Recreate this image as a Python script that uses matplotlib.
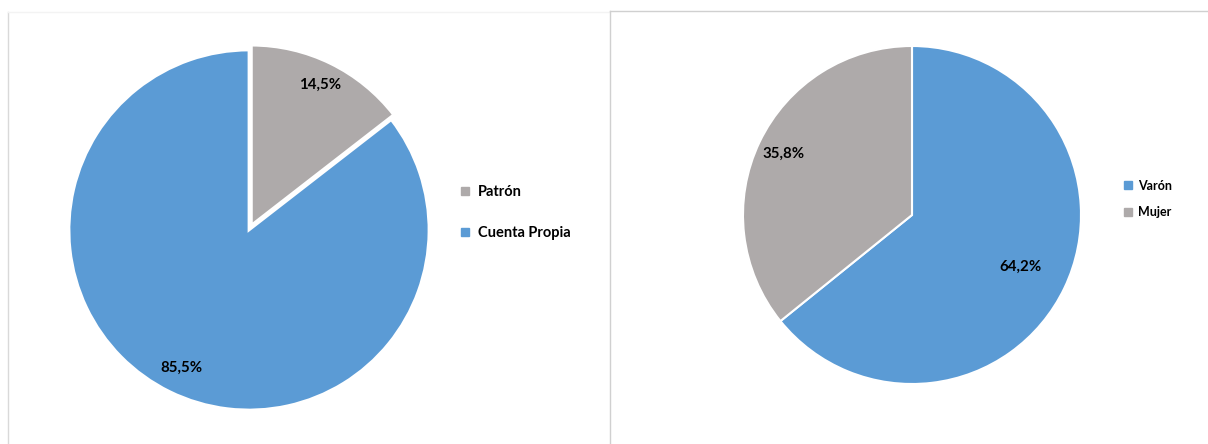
import numpy as np
import matplotlib.pyplot as plt
from matplotlib.lines import Line2D

plt.rcParams['font.family'] = ['Lato', 'DejaVu Sans']

# Categoría ocupacional
cat_labels = ['Patrón', 'Cuenta Propia']
cat_values = [14.5, 85.5]

# Sexo
sex_labels = ['Varón', 'Mujer']
sex_values = [64.2, 35.8]

BLUE = '#5B9BD5'
GRAY = '#AEAAAA'

W, H = 1208, 444
fig = plt.figure(figsize=(W / 100, H / 100), dpi=100)


def px_axes(cx, cy, r, lim=1.1):
    # square axes centred on (cx, cy) in pixels from the top-left corner
    side = 2 * r * lim
    return fig.add_axes([(cx - side / 2) / W, (H - cy - side / 2) / H, side / W, side / H])


def pct_labels(ax, wedges, values, dists, size):
    for w, v, d in zip(wedges, values, dists):
        ang = np.deg2rad((w.theta1 + w.theta2) / 2)
        x0, y0 = w.center
        ax.text(x0 + d * np.cos(ang), y0 + d * np.sin(ang), f'{v:.1f}%'.replace('.', ','),
                ha='center', va='center', fontsize=size, fontweight='bold', color='black')


# left pie
ax1 = px_axes(249, 230, 180)
w1, _ = ax1.pie(cat_values, colors=[GRAY, BLUE], startangle=90, counterclock=False,
                explode=[0.03, 0], radius=1,
                wedgeprops=dict(edgecolor='white', linewidth=2))
ax1.set_xlim(-1.1, 1.1)
ax1.set_ylim(-1.1, 1.1)
ax1.set_aspect('equal')
ax1.axis('off')
pct_labels(ax1, w1, cat_values, [0.87, 0.85], 10.8)

# right pie
ax2 = px_axes(912, 215, 169)
w2, _ = ax2.pie(sex_values, colors=[BLUE, GRAY], startangle=90, counterclock=False,
                radius=1, wedgeprops=dict(edgecolor='white', linewidth=1.5))
ax2.set_xlim(-1.1, 1.1)
ax2.set_ylim(-1.1, 1.1)
ax2.set_aspect('equal')
ax2.axis('off')
pct_labels(ax2, w2, sex_values, [0.71, 0.84], 10.8)


def square(c, ms):
    return Line2D([], [], marker='s', linestyle='none', markersize=ms,
                  markerfacecolor=c, markeredgecolor=c)


fig.legend([square(GRAY, 6), square(BLUE, 6)], cat_labels, loc='center left',
           bbox_to_anchor=(461 / W, 1 - 212.5 / H), frameon=False,
           prop=dict(size=10.5, weight='bold'), labelspacing=1.85,
           handlelength=0.6, handletextpad=0.55, borderpad=0, borderaxespad=0)
fig.legend([square(BLUE, 5.5), square(GRAY, 5.5)], sex_labels, loc='center left',
           bbox_to_anchor=(1124 / W, 1 - 199 / H), frameon=False,
           prop=dict(size=9, weight='bold'), labelspacing=1.15,
           handlelength=0.6, handletextpad=0.5, borderpad=0, borderaxespad=0)


# panel frames
def frame_line(xs, ys, color):
    fig.add_artist(Line2D([x / W for x in xs], [1 - y / H for y in ys],
                          color=color, linewidth=1, transform=fig.transFigure))


frame_line([8, 8], [12, 444], '#d9d9d9')
frame_line([8, 610], [12, 12], '#f3f3f3')
frame_line([610, 610], [11, 444], '#d0d0d0')
frame_line([610, 1208], [11, 11], '#d0d0d0')

fig.savefig('out.png', dpi=100, facecolor='white')
